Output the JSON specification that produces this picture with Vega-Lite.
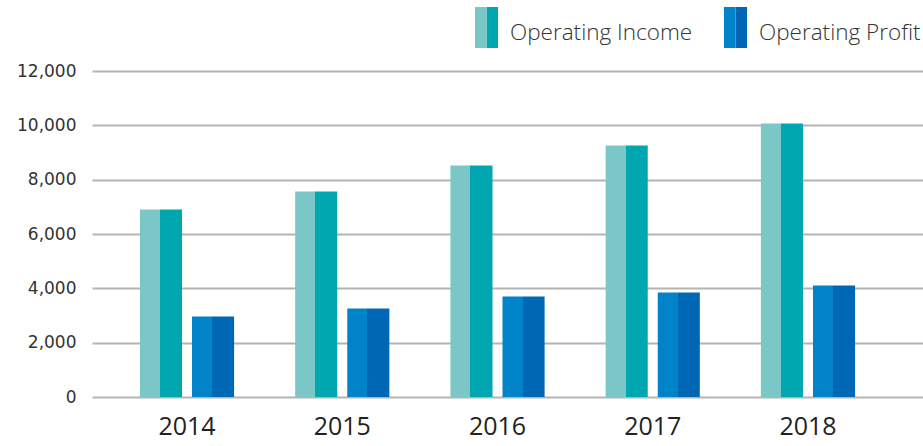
{
  "$schema": "https://vega.github.io/schema/vega-lite/v6.json",
  "width": 831,
  "height": 326,
  "autosize": {"type": "none"},
  "padding": {"left": 92, "top": 71, "right": 0, "bottom": 49},
  "background": "white",
  "config": {
    "view": {"stroke": null},
    "axis": {"domain": false, "ticks": false, "labelColor": "#333333"}
  },
  "data": {
    "values": [
      {"year": "2014", "series": "Operating Income", "value": 6900},
      {"year": "2014", "series": "Operating Profit", "value": 2960},
      {"year": "2015", "series": "Operating Income", "value": 7560},
      {"year": "2015", "series": "Operating Profit", "value": 3260},
      {"year": "2016", "series": "Operating Income", "value": 8520},
      {"year": "2016", "series": "Operating Profit", "value": 3700},
      {"year": "2017", "series": "Operating Income", "value": 9260},
      {"year": "2017", "series": "Operating Profit", "value": 3850},
      {"year": "2018", "series": "Operating Income", "value": 10070},
      {"year": "2018", "series": "Operating Profit", "value": 4100}
    ]
  },
  "encoding": {
    "x": {
      "field": "year", "type": "nominal",
      "scale": {"paddingInner": 0, "paddingOuter": 0.1765, "align": 0.3175},
      "axis": {"title": null, "labelAngle": 0, "labelFont": "Open Sans", "labelFontSize": 25, "labelColor": "#222222", "labelPadding": 17, "grid": false}
    },
    "xOffset": {
      "field": "series", "type": "nominal",
      "scale": {"paddingInner": 0.192, "paddingOuter": 0.586}
    },
    "y": {
      "field": "value", "type": "quantitative",
      "scale": {"domain": [0, 12000], "nice": false},
      "axis": {"title": null, "values": [0, 2000, 4000, 6000, 8000, 10000, 12000], "format": ",d", "labelFont": "DejaVu Sans", "labelFontSize": 17, "labelPadding": 16, "grid": true, "gridColor": "#b4b4b4", "gridWidth": 2}
    }
  },
  "layer": [
    {
      "mark": {"type": "bar", "opacity": 0},
      "encoding": {
        "color": {
          "field": "series", "type": "nominal",
          "scale": {"domain": ["Operating Income", "Operating Profit"], "range": ["#00a6b0", "#0067b4"]},
          "legend": {"orient": "none", "legendX": 374, "legendY": -71, "direction": "horizontal", "title": null, "symbolType": "M0,-0.659H0.561V1.341H0Z", "symbolSize": 1681, "symbolStrokeWidth": 0, "symbolOpacity": 1, "labelFont": "Open Sans", "labelFontSize": 22.5, "labelFontWeight": 300, "labelOpacity": 0, "labelLimit": 400, "labelOffset": 3, "labelBaseline": "line-top", "columnPadding": 22, "padding": 0}
        }
      }
    },
    {
      "mark": {"type": "bar", "opacity": 0},
      "encoding": {
        "color": {
          "field": "series", "type": "nominal",
          "scale": {"domain": ["Operating Income", "Operating Profit"], "range": ["#7bc7c8", "#0083c8"]},
          "legend": {"orient": "none", "legendX": 374, "legendY": -71, "direction": "horizontal", "title": null, "symbolType": "M-0.561,-0.659H0V1.341H-0.561Z", "symbolSize": 1681, "symbolStrokeWidth": 0, "symbolOpacity": 1, "labelFont": "Open Sans", "labelFontSize": 22.5, "labelFontWeight": 300, "labelColor": "#333333", "labelLimit": 400, "labelOffset": 3, "labelBaseline": "line-top", "columnPadding": 22, "padding": 0}
        }
      }
    },
    {
      "mark": {"type": "bar"},
      "encoding": {
        "color": {
          "condition": {
            "test": "datum.series === 'Operating Income'",
            "value": {"gradient": "linear", "x1": 0, "x2": 1, "y1": 0, "y2": 0, "stops": [{"offset": 0, "color": "#7bc7c8"}, {"offset": 0.476, "color": "#7bc7c8"}, {"offset": 0.476, "color": "#00a6b0"}, {"offset": 1, "color": "#00a6b0"}]}
          },
          "value": {"gradient": "linear", "x1": 0, "x2": 1, "y1": 0, "y2": 0, "stops": [{"offset": 0, "color": "#0083c8"}, {"offset": 0.476, "color": "#0083c8"}, {"offset": 0.476, "color": "#0067b4"}, {"offset": 1, "color": "#0067b4"}]}
        }
      }
    }
  ],
  "resolve": {"scale": {"color": "independent"}}
}
